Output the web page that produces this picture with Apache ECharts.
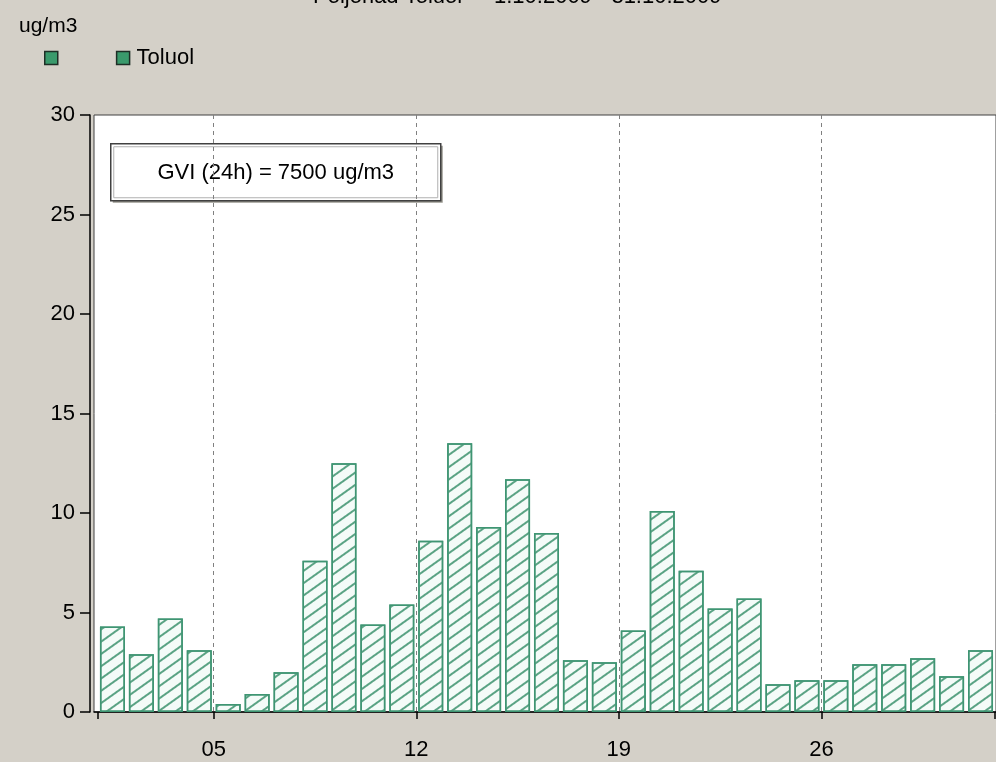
<!DOCTYPE html>
<html>
<head>
<meta charset="utf-8">
<title>Toluol</title>
<script src="https://cdn.jsdelivr.net/npm/echarts@6/dist/echarts.min.js"></script>
<style>
  html, body { margin: 0; padding: 0; background: #D4D0C8; }
  #main { width: 996px; height: 762px; }
</style>
</head>
<body>
<div id="main"></div>
<script>
// daily values, 1.10. - 31.10. (ug/m3)
const days = [1, 2, 3, 4, 5, 6, 7, 8, 9, 10, 11, 12, 13, 14, 15, 16,
  17, 18, 19, 20, 21, 22, 23, 24, 25, 26, 27, 28, 29, 30, 31];
const toluol = [4.3, 2.9, 4.7, 3.1, 0.4, 0.9, 2.0, 7.6, 12.5, 4.4, 5.4, 8.6, 13.5, 9.3, 11.7, 9.0,
  2.6, 2.5, 4.1, 10.1, 7.1, 5.2, 5.7, 1.4, 1.6, 1.6, 2.4, 2.4, 2.7, 1.8, 3.1];
// ticks on day boundaries, labels only on weeks
const tickDays = [1, 5, 12, 19, 26, 32];
const labelDays = [5, 12, 19, 26];
const yTicks = [0, 5, 10, 15, 20, 25, 30];

const FONT = "'Liberation Sans', Arial, sans-serif";
const GREEN = '#3f9573';

const chart = echarts.init(document.getElementById('main'));

// each bar covers its whole day, so it sits at day + 0.5
const barData = days.map((d, i) => [d + 0.5, toluol[i]]);

chart.setOption({
  backgroundColor: '#D4D0C8',
  animation: false,
  textStyle: { fontFamily: FONT },
  title: [
    {
      text: 'Poljoriad Toluol  -  1.10.2009 - 31.10.2009',
      left: 308, top: -19,
      textStyle: { fontSize: 22, fontWeight: 'normal', color: '#000', fontFamily: FONT }
    },
    {
      text: 'ug/m3',
      left: 14, top: 11,
      textStyle: { fontSize: 21, fontWeight: 'normal', color: '#000', fontFamily: FONT }
    }
  ],
  legend: {
    left: 39, top: 42,
    icon: 'rect',
    itemWidth: 13, itemHeight: 13,
    itemGap: 45,
    data: ['\u00a0', 'Toluol'],
    itemStyle: { color: '#3a9a6c', borderColor: '#1e2e26', borderWidth: 1.5, decal: 'none' },
    textStyle: { fontSize: 22, color: '#000', fontFamily: FONT, padding: [0, 0, 0, 2] }
  },
  grid: {
    left: 94, right: 0, top: 115, bottom: 50,
    show: true,
    backgroundColor: '#fff',
    borderColor: '#404040',
    borderWidth: 1
  },
  xAxis: {
    type: 'value',
    min: 0.862, max: 32.035,
    offset: 6,
    axisLine: { lineStyle: { color: '#000', width: 1.5 } },
    axisTick: { customValues: tickDays, length: 7, lineStyle: { color: '#000', width: 1.5 } },
    axisLabel: {
      customValues: labelDays,
      margin: 21,
      fontSize: 22, color: '#000', fontFamily: FONT,
      formatter: v => String(Math.round(v)).padStart(2, '0')
    },
    splitLine: {
      show: true,
      showMinLine: false, showMaxLine: false,
      lineStyle: { color: '#808080', type: [4, 4], width: 1 }
    }
  },
  yAxis: {
    type: 'value',
    min: 0, max: 30, interval: 5,
    offset: 4,
    axisLine: { show: true, lineStyle: { color: '#000', width: 1.5 } },
    axisTick: { show: true, length: 10, lineStyle: { color: '#000', width: 1.5 } },
    axisLabel: {
      customValues: yTicks,
      margin: 15,
      fontSize: 22, color: '#000', fontFamily: FONT
    },
    splitLine: { show: false }
  },
  graphic: [
    {
      type: 'group',
      left: 110, top: 143,
      children: [
        { type: 'rect', shape: { x: 2, y: 2, width: 330, height: 57 }, style: { fill: '#9a9890' } },
        { type: 'rect', shape: { x: 0, y: 0, width: 330, height: 57 },
          style: { fill: '#fff', stroke: '#404040', lineWidth: 1.5 } },
        { type: 'rect', shape: { x: 3, y: 3, width: 324, height: 51 },
          style: { fill: 'none', stroke: '#b0b0b0', lineWidth: 1 } },
        { type: 'text', x: 165, y: 29,
          style: { text: 'GVI (24h) = 7500 ug/m3', fill: '#000', font: '22px ' + FONT,
            align: 'center', verticalAlign: 'middle' } }
      ]
    }
  ],
  series: [
    {
      // blank legend entry, no data
      name: '\u00a0',
      type: 'line',
      data: [],
      itemStyle: { color: '#3a9a6c' }
    },
    {
      name: 'Toluol',
      type: 'bar',
      data: barData,
      barWidth: 25,
      itemStyle: {
        color: '#f4fbf8',
        borderColor: GREEN,
        borderWidth: 1.5,
        decal: {
          symbol: 'rect',
          symbolSize: 1,
          dashArrayX: [[1, 0]],
          dashArrayY: [1.2, 7.8],
          rotation: -0.62,
          color: '#5aa384'
        }
      }
    }
  ]
});
</script>
</body>
</html>
